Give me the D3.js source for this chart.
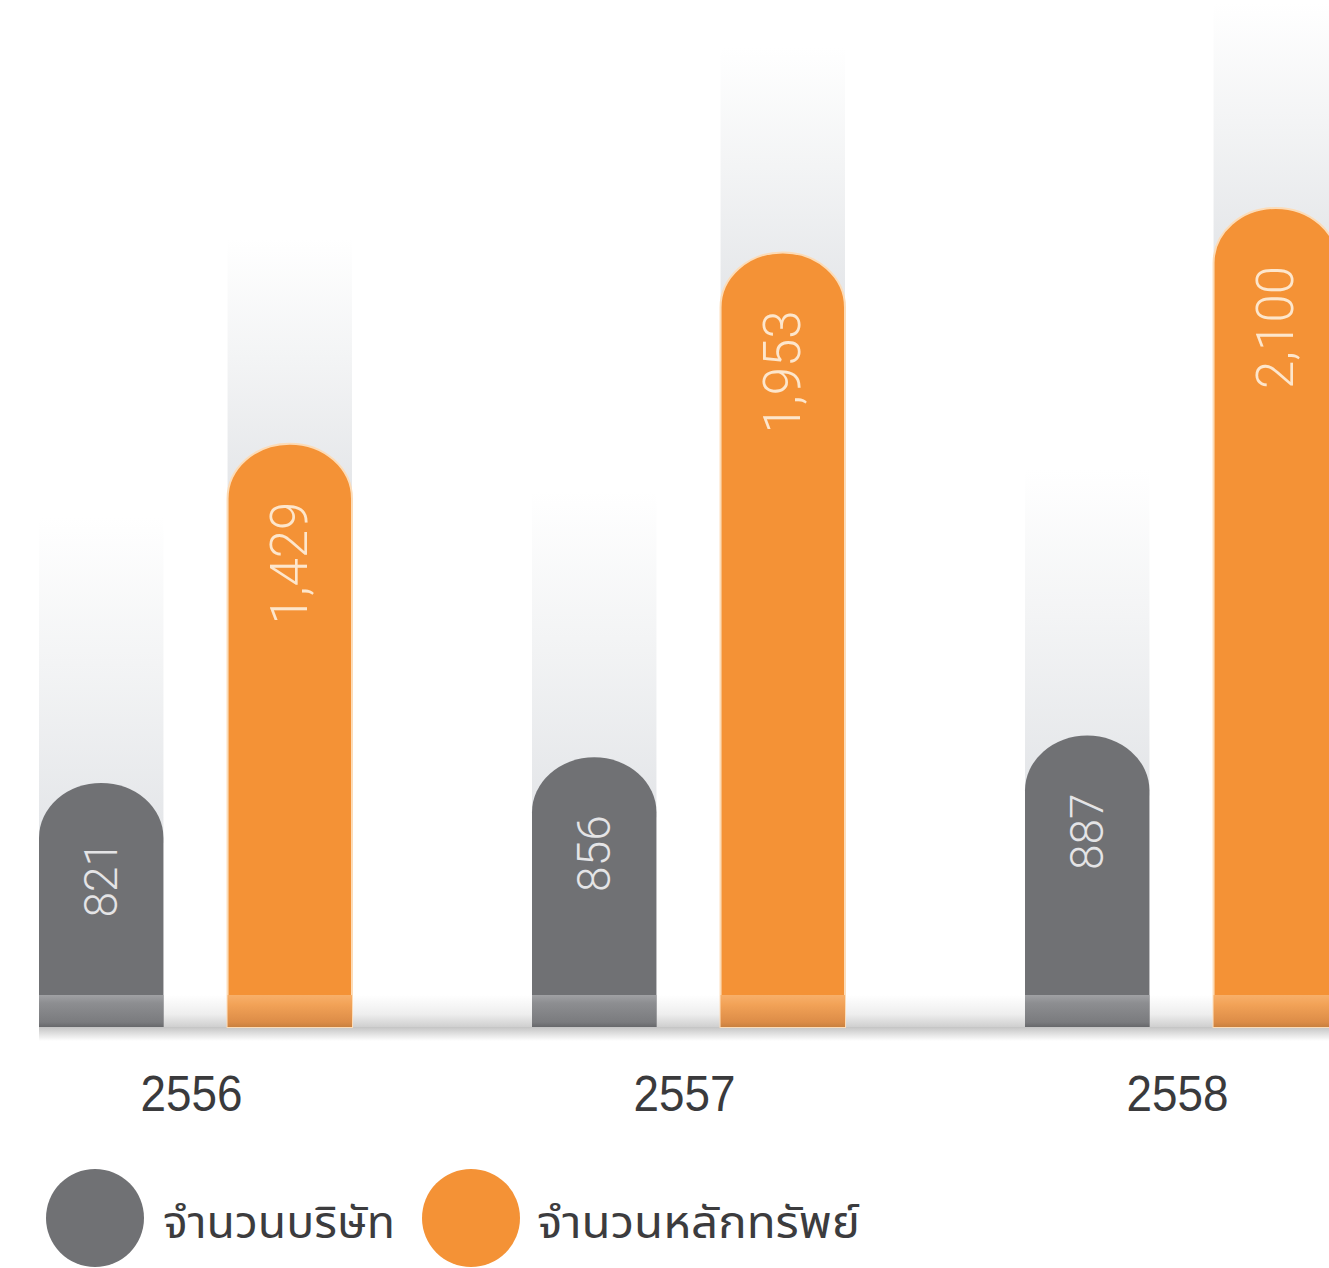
<!DOCTYPE html>
<html>
<head>
<meta charset="utf-8">
<script src="https://cdn.jsdelivr.net/npm/d3@7"></script>
<style>
  html, body { margin: 0; padding: 0; background: #ffffff; }
  svg { display: block; }
</style>
</head>
<body>
<div id="chart"></div>
<script>
// Listed companies and listed securities per year (Thai Buddhist calendar)
const years = ['2556', '2557', '2558'];
const companies = [821, 856, 887];
const securities = [1429, 1953, 2100];
const seriesNames = ['จำนวนบริษัท', 'จำนวนหลักทรัพย์'];
const seriesKeys = ['companies', 'securities'];

const W = 1329, H = 1268;
const baseY = 1027;
const bandTop = 995;

const colors = { companies: '#707174', securities: '#f49236' };
const labelColors = { companies: '#e4e4e6', securities: '#fde6cc' };
const labelSizes = { companies: 46, securities: 51 };
const glowLen = { companies: 266, securities: 205 };

const rows = years.map((y, i) => ({
  year: y,
  values: [
    { key: 'companies', value: companies[i] },
    { key: 'securities', value: securities[i] }
  ]
}));

const svg = d3.select('#chart').append('svg')
  .attr('width', W).attr('height', H);

const defs = svg.append('defs');

// soft column glow rising above each bar
const glow = defs.append('linearGradient').attr('id', 'glow')
  .attr('x1', 0).attr('y1', 0).attr('x2', 0).attr('y2', 1);
glow.append('stop').attr('offset', '0%').attr('stop-color', '#ffffff');
glow.append('stop').attr('offset', '45%').attr('stop-color', '#f3f4f5');
glow.append('stop').attr('offset', '100%').attr('stop-color', '#e3e5e8');

// floor band behind the bar bases
const floor = defs.append('linearGradient').attr('id', 'floor')
  .attr('x1', 0).attr('y1', 0).attr('x2', 0).attr('y2', 1);
floor.append('stop').attr('offset', '0%').attr('stop-color', '#ffffff');
floor.append('stop').attr('offset', '60%').attr('stop-color', '#eeeeee');
floor.append('stop').attr('offset', '100%').attr('stop-color', '#cfcfcf');

const floorShadow = defs.append('linearGradient').attr('id', 'floorShadow')
  .attr('x1', 0).attr('y1', 0).attr('x2', 0).attr('y2', 1);
floorShadow.append('stop').attr('offset', '0%').attr('stop-color', '#c4c4c4');
floorShadow.append('stop').attr('offset', '100%').attr('stop-color', '#ffffff');

// bar base strips
const baseGray = defs.append('linearGradient').attr('id', 'base-companies')
  .attr('x1', 0).attr('y1', 0).attr('x2', 0).attr('y2', 1);
baseGray.append('stop').attr('offset', '0%').attr('stop-color', '#a0a1a4');
baseGray.append('stop').attr('offset', '25%').attr('stop-color', '#8d8e91');
baseGray.append('stop').attr('offset', '85%').attr('stop-color', '#7a7b7e');
baseGray.append('stop').attr('offset', '100%').attr('stop-color', '#67686b');

const baseOrange = defs.append('linearGradient').attr('id', 'base-securities')
  .attr('x1', 0).attr('y1', 0).attr('x2', 0).attr('y2', 1);
baseOrange.append('stop').attr('offset', '0%').attr('stop-color', '#f8b06a');
baseOrange.append('stop').attr('offset', '30%').attr('stop-color', '#f2a257');
baseOrange.append('stop').attr('offset', '85%').attr('stop-color', '#dc8c47');
baseOrange.append('stop').attr('offset', '100%').attr('stop-color', '#c9803f');

// scales
const x0 = d3.scaleBand().domain(years).range([39, 39 + 493 * 3]).paddingInner(0).paddingOuter(0);
const x1 = d3.scaleBand().domain(seriesKeys).range([0, 313]).paddingInner(0.34).paddingOuter(0);
const y = d3.scaleLog().domain([551, 2100]).range([baseY, 208]);

// floor band across the chart
svg.append('rect').attr('x', 39).attr('y', bandTop).attr('width', W - 39).attr('height', baseY - bandTop)
  .attr('fill', 'url(#floor)');
svg.append('rect').attr('x', 39).attr('y', baseY).attr('width', W - 39).attr('height', 14)
  .attr('fill', 'url(#floorShadow)');

const groups = svg.selectAll('g.year').data(rows).join('g')
  .attr('class', 'year')
  .attr('transform', d => `translate(${x0(d.year)},0)`);

const bw = x1.bandwidth();

// glow columns
groups.selectAll('rect.glow').data(d => d.values).join('rect')
  .attr('class', 'glow')
  .attr('x', d => x1(d.key))
  .attr('width', bw)
  .attr('y', d => y(d.value) - glowLen[d.key])
  .attr('height', d => glowLen[d.key] + 60)
  .attr('fill', 'url(#glow)');

// rounded-top bars
const capRy = 55;
function barPath(d) {
  const xl = x1(d.key), xr = xl + bw, top = y(d.value);
  return `M${xl},${baseY} V${top + capRy} A${bw / 2},${capRy} 0 0 1 ${xr},${top + capRy} V${baseY} Z`;
}
groups.selectAll('path.bar').data(d => d.values).join('path')
  .attr('class', 'bar')
  .attr('d', barPath)
  .attr('fill', d => colors[d.key])
  .attr('stroke', d => d.key === 'securities' ? '#fcdcb8' : 'none')
  .attr('stroke-width', 2);

// lighter base strip on each bar
groups.selectAll('rect.base').data(d => d.values).join('rect')
  .attr('class', 'base')
  .attr('x', d => x1(d.key))
  .attr('width', bw)
  .attr('y', bandTop)
  .attr('height', baseY - bandTop)
  .attr('fill', d => `url(#base-${d.key})`);

// value labels, rotated inside the bars
const fmt = d3.format(',');
groups.selectAll('text.value').data(d => d.values).join('text')
  .attr('class', 'value')
  .attr('transform', d => `translate(${x1(d.key) + bw / 2},${y(d.value) + 58}) rotate(-90)`)
  .attr('text-anchor', 'end')
  .attr('dominant-baseline', 'central')
  .attr('font-family', 'Roboto, "Liberation Sans", sans-serif')
  .attr('font-weight', 300)
  .attr('font-size', d => labelSizes[d.key])
  .attr('fill', d => labelColors[d.key])
  .text(d => fmt(d.value));

// year labels
groups.append('text')
  .attr('x', x0.bandwidth() > 0 ? 313 / 2 - 4 : 0)
  .attr('y', 1111)
  .attr('text-anchor', 'middle')
  .attr('font-family', '"Liberation Sans", Arial, sans-serif')
  .attr('font-size', 50)
  .attr('fill', '#3a3a3c')
  .attr('textLength', 102)
  .attr('lengthAdjust', 'spacingAndGlyphs')
  .text(d => d.year);

// legend
const legendItems = [
  { key: 'companies', name: seriesNames[0], cx: 95, tx: 163, tw: 232 },
  { key: 'securities', name: seriesNames[1], cx: 471, tx: 537, tw: 323 }
];
const legend = svg.append('g').attr('class', 'legend');
legend.selectAll('circle').data(legendItems).join('circle')
  .attr('cx', d => d.cx).attr('cy', 1218).attr('r', 49)
  .attr('fill', d => colors[d.key]);
legend.selectAll('text').data(legendItems).join('text')
  .attr('x', d => d.tx).attr('y', 1238)
  .attr('font-family', '"Noto Sans Thai", "Noto Sans", "DejaVu Sans", sans-serif')
  .attr('font-size', 44)
  .attr('fill', '#3c3c3e')
  .attr('textLength', d => d.tw)
  .attr('lengthAdjust', 'spacingAndGlyphs')
  .text(d => d.name);
</script>
</body>
</html>
